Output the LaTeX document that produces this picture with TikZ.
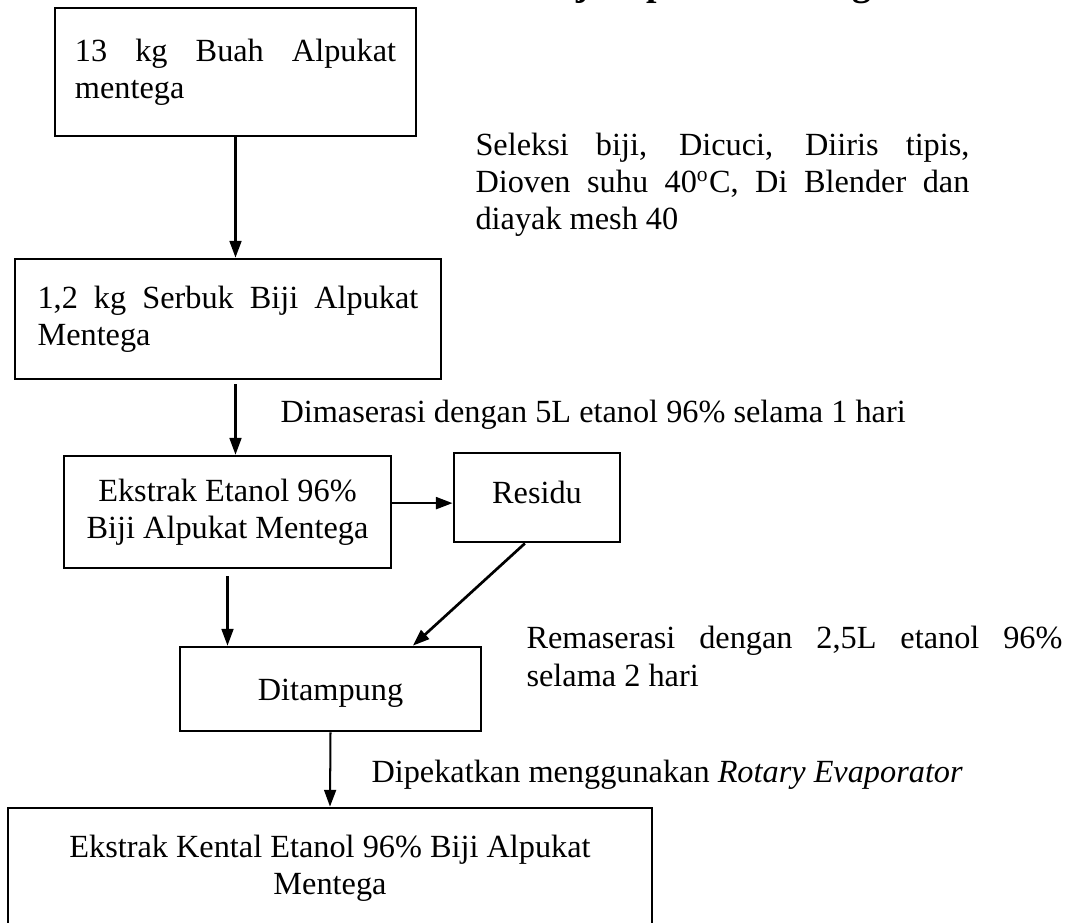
\documentclass[tikz,border=0pt]{standalone}
\usepackage{fontspec}
\setmainfont{Liberation Serif}
\usetikzlibrary{arrows.meta}
\hyphenpenalty=10000
\tolerance=9999

\tikzset{
  kotak/.style={draw, line width=1pt, rectangle, inner sep=0pt, font=\fontsize{12}{13.8}\selectfont},
  ket/.style={inner sep=0pt, anchor=west, font=\fontsize{12}{13.8}\selectfont},
  panah/.style={-{Triangle[length=6.2pt,width=4.4pt]}, line width=0.75pt},
}

\begin{document}
\begin{tikzpicture}[x=0.3715pt,y=-0.3715pt]
\useasboundingbox (0,0) rectangle (1078,923);
\node[anchor=base west, inner sep=0pt, font=\fontsize{14}{16}\selectfont\bfseries] (judul) at (540,-5) {Biji Alpukat Mentega};
\node[kotak, minimum width=134.1pt, minimum height=47.6pt, text width=119.3pt, align=justify] (buah) at (235.5,72) {13 kg Buah Alpukat mentega};
\node[kotak, minimum width=158.3pt, minimum height=44.6pt, text width=141.5pt, align=justify] (serbuk) at (228,319) {1,2 kg Serbuk Biji Alpukat Mentega};
\node[kotak, minimum width=121.5pt, minimum height=41.6pt, align=center] (ekstrak) at (227.5,512) {Ekstrak Etanol 96\%\\Biji Alpukat Mentega};
\node[kotak, minimum width=61.7pt, minimum height=33.1pt, text depth=4pt] (residu) at (537,497.5) {Residu};
\node[kotak, minimum width=111.8pt, minimum height=31.2pt, text height=11pt] (tampung) at (330.5,689) {Ditampung};
\node[kotak, minimum width=239.2pt, minimum height=44.6pt, align=center] (akhir) at (330,868) {Ekstrak Kental Etanol 96\% Biji Alpukat\\Mentega};
\node[ket, text width=183.5pt, align=justify] (seleksi) at (475,185) {Seleksi biji, Dicuci, Diiris tipis, Dioven suhu 40\textsuperscript{o}C, Di Blender dan diayak mesh 40};
\node[ket] (maserasi) at (280,414.5) {Dimaserasi dengan 5L etanol 96\% selama 1 hari};
\node[ket, text width=199.1pt, align=justify] (remaserasi) at (526,656.5) {Remaserasi dengan 2,5L etanol 96\% selama 2 hari};
\node[ket] (pekat) at (371,775) {Dipekatkan menggunakan \textit{Rotary Evaporator}};
\draw[panah] (buah.south) -- (buah.south |- serbuk.north);
\draw[panah] ([yshift=-1.5pt]serbuk.south -| buah.south) -- (ekstrak.north -| buah.south);
\draw[panah, line width=1pt] ([yshift=3.3pt]ekstrak.east) -- ([yshift=3.3pt]ekstrak.east -| residu.west);
\draw[panah] ([yshift=-2.6pt]ekstrak.south) -- (ekstrak.south |- tampung.north);
\draw[panah, line width=1pt] ([xshift=-4.5pt]residu.south) -- ([xshift=30.6pt]tampung.north);
\draw[panah] (tampung.south) -- (akhir.north);
\end{tikzpicture}
\end{document}
